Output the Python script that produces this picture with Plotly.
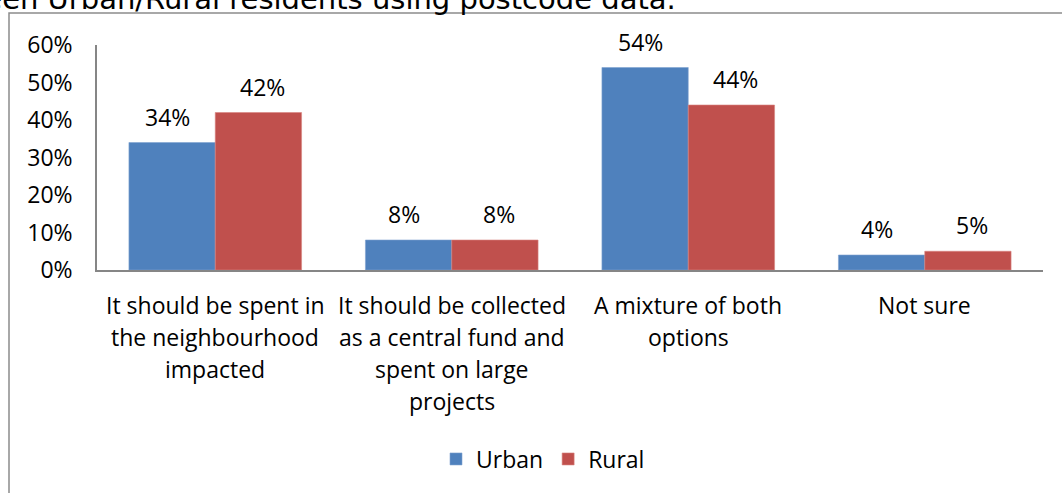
import plotly.graph_objects as go

categories = [
    "It should be spent in<br>the neighbourhood<br>impacted",
    "It should be collected<br>as a central fund and<br>spent on large<br>projects",
    "A mixture of both<br>options",
    "Not sure",
]
urban = [34, 8, 54, 4]
rural = [42, 8, 44, 5]
y_ticks = [0, 10, 20, 30, 40, 50, 60]
y_tick_labels = ["0%", "10%", "20%", "30%", "40%", "50%", "60%"]
title_text = "between Urban/Rural residents using postcode data."

BLUE = "#4F81BD"
RED = "#C0504D"
FONT = "'Open Sans', sans-serif"
TXT = "#000000"
FS = 23

# plot area in pixels
L, R, T, B = 97, 19, 45, 223
PW, PH = 1062 - L - R, 493 - T - B

fig = go.Figure()
fig.add_trace(go.Bar(x=categories, y=urban, name="Urban", marker_color=BLUE,
                     marker_line=dict(color="#7FA3D0", width=0.6)))
fig.add_trace(go.Bar(x=categories, y=rural, name="Rural", marker_color=RED,
                     marker_line=dict(color="#D88480", width=0.6)))

annotations = []
# value labels above each bar
for series, offset in ((urban, -0.2), (rural, 0.2)):
    for i, v in enumerate(series):
        annotations.append(dict(
            x=i + offset, y=v, xref="x", yref="y", text=f"{v}%",
            showarrow=False, yanchor="middle", yshift=26,
            font=dict(family=FONT, size=FS, color=TXT)))

# category labels, one annotation per line for wider line spacing
for i, cat in enumerate(categories):
    for j, line in enumerate(cat.split("<br>")):
        annotations.append(dict(
            x=i, y=0, xref="x", yref="y", text=line, showarrow=False,
            yanchor="middle", yshift=-(35 + j * 32),
            font=dict(family=FONT, size=FS, color=TXT)))

# heading above the frame, running off the top-left of the page
annotations.append(dict(
    x=(678 - L) / PW, y=1 + (T + 1.5) / PH, xref="paper", yref="paper",
    text=title_text, showarrow=False, xanchor="right", yanchor="middle",
    font=dict(family="'DejaVu Sans', Verdana, sans-serif", size=29, color=TXT)))

fig.update_layout(
    width=1062, height=493,
    margin=dict(l=L, r=R, t=T, b=B),
    paper_bgcolor="white", plot_bgcolor="white",
    barmode="group", bargap=0.27, bargroupgap=0,
    showlegend=True,
    legend=dict(orientation="h", x=(543 - L) / PW, xanchor="center",
                y=-(459 - T - PH) / PH, yanchor="middle",
                font=dict(family=FONT, size=FS, color=TXT),
                itemwidth=30, traceorder="normal"),
    xaxis=dict(range=[-0.5, 3.5], tickvals=list(range(len(categories))),
               ticktext=[""] * len(categories), showline=True, linecolor="#868686",
               linewidth=1.5, ticks="", showgrid=False, zeroline=False, fixedrange=True),
    yaxis=dict(range=[0, 60], tickvals=y_ticks, ticktext=y_tick_labels,
               showline=True, linecolor="#868686", linewidth=1.5, ticks="",
               showgrid=False, zeroline=False, ticklabelstandoff=18,
               tickfont=dict(family=FONT, size=FS, color=TXT)),
    font=dict(family=FONT, size=FS, color=TXT),
)

# outer chart frame
fig.add_shape(type="rect", xref="paper", yref="paper",
              x0=(9 - L) / PW, x1=1.1, y0=-1.5, y1=1 + (T - 13) / PH,
              line=dict(color="#8C8C8C", width=1.5), layer="below")

fig.update_layout(annotations=annotations)
fig.write_html("out.html")
